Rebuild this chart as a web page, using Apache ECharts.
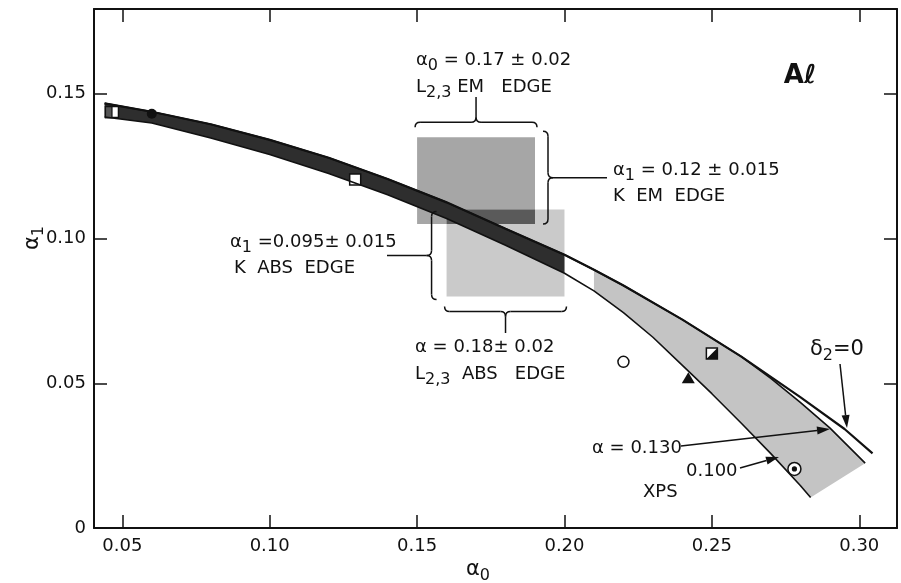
<!DOCTYPE html>
<html><head><meta charset="utf-8">
<script src="https://cdn.jsdelivr.net/npm/echarts@6/dist/echarts.min.js"></script>
<style>html,body{margin:0;padding:0;background:#fff}#c{width:901px;height:583px}</style>
</head><body><div id="c"></div>
<script>
// ---- data ----
const xTicks = [0.05, 0.10, 0.15, 0.20, 0.25, 0.30];
const yTicks = [0, 0.05, 0.10, 0.15];

// delta2 = 0 curve
const delta2X = [0.044,0.06,0.08,0.10,0.12,0.14,0.16,0.18,0.20,0.21,0.22,0.24,0.26,0.28,0.295,0.3045];
const delta2Y = [0.1467,0.1438,0.1395,0.1341,0.1279,0.1206,0.1125,0.1034,0.0944,0.0892,0.0838,0.0720,0.0592,0.0452,0.0342,0.0258];
// alpha = 0.130 curve (upper edge of band)
const alpha130X = [0.044,0.06,0.08,0.10,0.12,0.14,0.16,0.18,0.20,0.21,0.22,0.24,0.26,0.27,0.28,0.29,0.302];
const alpha130Y = [0.1467,0.1438,0.1395,0.1341,0.1279,0.1206,0.1125,0.1034,0.0944,0.0892,0.0838,0.0720,0.0592,0.0517,0.0434,0.0346,0.0224];
// alpha = 0.100 curve (lower edge of band)
const alpha100X = [0.044,0.06,0.08,0.10,0.12,0.14,0.16,0.18,0.20,0.21,0.22,0.23,0.24,0.25,0.26,0.27,0.28,0.2835];
const alpha100Y = [0.1420,0.1399,0.1347,0.1290,0.1225,0.1151,0.1069,0.0977,0.0880,0.0819,0.0744,0.0659,0.0562,0.0464,0.0362,0.0257,0.0147,0.0105];
const darkBandEnd = 0.20;
const grayBandStart = 0.21;

// L2,3 EM edge: alpha0 = 0.17 +- 0.02 ; K EM edge: alpha1 = 0.12 +- 0.015
const emEdgeX = [0.15, 0.19];
const emEdgeY = [0.105, 0.135];
// L2,3 ABS edge: alpha = 0.18 +- 0.02 ; K ABS edge: alpha1 = 0.095 +- 0.015
const absEdgeX = [0.16, 0.20];
const absEdgeY = [0.08, 0.11];

// individual points
const pointX = [0.0465, 0.0600, 0.1290, 0.2200, 0.2420, 0.2500, 0.2780];
const pointY = [0.1437, 0.1431, 0.1204, 0.0574, 0.0517, 0.0603, 0.0204];
const pointKind = ['halfSquare', 'dot', 'openSquare', 'openCircle', 'triangle', 'diagSquare', 'circledDot'];

// ---- chart ----
const FONT = 'DejaVu Sans';
const INK = '#111';
const chart = echarts.init(document.getElementById('c'), null, {renderer: 'canvas'});

function axisBase(extra) {
  return Object.assign({
    type: 'value',
    axisLine: {show: true, onZero: false, lineStyle: {color: INK, width: 2}},
    splitLine: {show: false}
  }, extra);
}
const fmt = v => (Math.abs(v) < 1e-9 ? '0' : v.toFixed(2));

function pts(xs, ys) { return xs.map((x, i) => [x, ys[i]]); }

function bandPolygon(api, lo, hi) {
  const up = [], low = [];
  alpha130X.forEach((x, i) => { if (x >= lo - 1e-9 && x <= hi + 1e-9) up.push(api.coord([x, alpha130Y[i]])); });
  alpha100X.forEach((x, i) => { if (x >= lo - 1e-9 && x <= hi + 1e-9) low.push(api.coord([x, alpha100Y[i]])); });
  return up.concat(low.reverse());
}

function rectShape(api, xs, ys) {
  const a = api.coord([xs[0], ys[1]]);
  const b = api.coord([xs[1], ys[0]]);
  return {x: a[0], y: a[1], width: b[0] - a[0], height: b[1] - a[1]};
}

chart.setOption({
  animation: false,
  backgroundColor: '#fff',
  grid: {left: 94, right: 4, top: 9, bottom: 55},
  xAxis: [
    axisBase({min: 0.0404, max: 0.3128, position: 'bottom',
      axisTick: {show: true, inside: true, length: 13, customValues: xTicks, lineStyle: {color: INK, width: 1.5}},
      axisLabel: {customValues: xTicks, formatter: fmt, fontSize: 18, fontFamily: FONT, color: INK, margin: 9}}),
    axisBase({min: 0.0404, max: 0.3128, position: 'top',
      axisTick: {show: true, inside: true, length: 13, customValues: xTicks, lineStyle: {color: INK, width: 1.5}},
      axisLabel: {show: false}})
  ],
  yAxis: [
    axisBase({min: 0, max: 0.1793, position: 'left',
      axisTick: {show: true, inside: true, length: 13, customValues: yTicks, lineStyle: {color: INK, width: 1.5}},
      axisLabel: {customValues: yTicks, formatter: fmt, fontSize: 18, fontFamily: FONT, color: INK, margin: 8}}),
    axisBase({min: 0, max: 0.1793, position: 'right',
      axisTick: {show: true, inside: true, length: 13, customValues: yTicks, lineStyle: {color: INK, width: 1.5}},
      axisLabel: {show: false}})
  ],
  series: [
    { // edge boxes
      type: 'custom', clip: false, data: [[0.17, 0.1]],
      renderItem: (params, api) => {
        const em = rectShape(api, emEdgeX, emEdgeY);
        const ab = rectShape(api, absEdgeX, absEdgeY);
        const ov = rectShape(api, [Math.max(emEdgeX[0], absEdgeX[0]), Math.min(emEdgeX[1], absEdgeX[1])],
                                  [Math.max(emEdgeY[0], absEdgeY[0]), Math.min(emEdgeY[1], absEdgeY[1])]);
        return {type: 'group', children: [
          {type: 'rect', shape: em, style: {fill: '#a6a6a6'}},
          {type: 'rect', shape: ab, style: {fill: '#cacaca'}},
          {type: 'rect', shape: ov, style: {fill: '#5a5a5a'}}
        ]};
      }
    },
    { // band fill
      type: 'custom', clip: false, data: [[0.17, 0.1]],
      renderItem: (params, api) => ({type: 'group', children: [
        {type: 'polygon', shape: {points: bandPolygon(api, 0, darkBandEnd)}, style: {fill: '#2e2e2e'}},
        {type: 'polygon', shape: {points: bandPolygon(api, grayBandStart, 1)}, style: {fill: '#c4c4c4'}}
      ]})
    },
    {type: 'line', data: pts(alpha100X, alpha100Y), symbol: 'none', lineStyle: {color: INK, width: 1.6}},
    {type: 'line', data: pts(alpha130X, alpha130Y), symbol: 'none', lineStyle: {color: INK, width: 1.6}},
    {type: 'line', data: pts(delta2X, delta2Y), symbol: 'none', lineStyle: {color: INK, width: 2.2}},
    { // points
      type: 'custom', clip: false, data: pts(pointX, pointY),
      renderItem: (params, api) => {
        const p = api.coord([api.value(0), api.value(1)]);
        const x = p[0], y = p[1];
        const k = pointKind[params.dataIndex];
        const st = {fill: '#fff', stroke: INK, lineWidth: 1.5};
        if (k === 'dot') return {type: 'circle', shape: {cx: x, cy: y, r: 5}, style: {fill: INK}};
        if (k === 'openCircle') return {type: 'circle', shape: {cx: x, cy: y, r: 5.5}, style: st};
        if (k === 'openSquare') return {type: 'rect', shape: {x: x - 5.5, y: y - 5.5, width: 11, height: 11}, style: st};
        if (k === 'triangle') return {type: 'polygon', shape: {points: [[x, y - 6], [x - 6.5, y + 5], [x + 6.5, y + 5]]}, style: {fill: INK}};
        if (k === 'circledDot') return {type: 'group', children: [
          {type: 'circle', shape: {cx: x, cy: y, r: 6.5}, style: st},
          {type: 'circle', shape: {cx: x, cy: y, r: 2.6}, style: {fill: INK}}]};
        if (k === 'diagSquare') return {type: 'group', children: [
          {type: 'rect', shape: {x: x - 5.5, y: y - 5.5, width: 11, height: 11}, style: st},
          {type: 'polygon', shape: {points: [[x + 5.5, y - 5.5], [x + 5.5, y + 5.5], [x - 5.5, y + 5.5]]}, style: {fill: INK}}]};
        // halfSquare
        return {type: 'group', children: [
          {type: 'rect', shape: {x: x - 6.5, y: y - 5.5, width: 13, height: 11}, style: st},
          {type: 'rect', shape: {x: x - 6.5, y: y - 5.5, width: 6.5, height: 11}, style: {fill: '#555', stroke: INK, lineWidth: 1.2}}]};
      }
    }
  ]
});

// ---- annotations ----
const toPx = (x, y) => chart.convertToPixel({gridIndex: 0}, [x, y]);
const emTL = toPx(emEdgeX[0], emEdgeY[1]), emBR = toPx(emEdgeX[1], emEdgeY[0]);
const abTL = toPx(absEdgeX[0], absEdgeY[1]), abBR = toPx(absEdgeX[1], absEdgeY[0]);

const g = [];
const lineSt = {stroke: INK, lineWidth: 1.5, fill: null};
function seg(x1, y1, x2, y2) { g.push({type: 'line', shape: {x1, y1, x2, y2}, style: {stroke: INK, lineWidth: 1.5}, z: 20}); }
function quad(x1, y1, cx, cy, x2, y2) {
  g.push({type: 'bezierCurve', shape: {x1, y1, x2, y2, cpx1: cx, cpy1: cy}, style: lineSt, z: 20});
}
// horizontal brace, tip toward y + s*r
function hBrace(x1, x2, y, s, r) {
  const xm = (x1 + x2) / 2;
  quad(x1, y - s * r, x1, y, x1 + r, y);
  seg(x1 + r, y, xm - r, y);
  quad(xm - r, y, xm, y, xm, y + s * r);
  quad(xm, y + s * r, xm, y, xm + r, y);
  seg(xm + r, y, x2 - r, y);
  quad(x2 - r, y, x2, y, x2, y - s * r);
}
// vertical brace, tip toward x + s*r
function vBrace(y1, y2, x, s, r) {
  const ym = (y1 + y2) / 2;
  quad(x - s * r, y1, x, y1, x, y1 + r);
  seg(x, y1 + r, x, ym - r);
  quad(x, ym - r, x, ym, x + s * r, ym);
  quad(x + s * r, ym, x, ym, x, ym + r);
  seg(x, ym + r, x, y2 - r);
  quad(x, y2 - r, x, y2, x - s * r, y2);
}
function arrow(x1, y1, x2, y2) {
  const a = Math.atan2(y2 - y1, x2 - x1), L = 13, W = 4;
  const bx = x2 - L * Math.cos(a), by = y2 - L * Math.sin(a);
  seg(x1, y1, bx, by);
  g.push({type: 'polygon', shape: {points: [[x2, y2], [bx + W * Math.sin(a), by - W * Math.cos(a)], [bx - W * Math.sin(a), by + W * Math.cos(a)]]}, style: {fill: INK}, z: 20});
}
// top brace (EM edge, alpha0)
const tb = emTL[1] - 15, tm = (emTL[0] + emBR[0]) / 2;
hBrace(emTL[0] - 2, emBR[0] + 2, tb, -1, 5);
seg(tm, tb - 5, tm, 97);
// right brace (EM edge, alpha1)
const rb = emBR[0] + 13, rm = (emTL[1] - 6 + emBR[1]) / 2;
vBrace(emTL[1] - 6, emBR[1], rb, 1, 5);
seg(rb + 5, rm, 607, rm);
// left brace (ABS edge, alpha1)
const lb = abTL[0] - 15, lm = (abTL[1] + 2 + abBR[1] + 3) / 2;
vBrace(abTL[1] + 2, abBR[1] + 3, lb, -1, 5);
seg(387, lm, lb - 5, lm);
// bottom brace (ABS edge, alpha)
const bb = abBR[1] + 15, bm = (abTL[0] + abBR[0]) / 2;
hBrace(abTL[0] - 2, abBR[0] + 2, bb, 1, 5);
seg(bm, bb + 5, bm, 333);
// arrows
arrow(681, 446, 830, 429);
arrow(740, 468, 779, 457);
arrow(840, 364, 847, 428);

const rich = {
  n: {fontSize: 18, fontFamily: FONT, fill: INK},
  s: {fontSize: 16, fontFamily: FONT, fill: INK, padding: [12, 0, 0, 0]},
  b: {fontSize: 21, fontFamily: FONT, fill: INK},
  bs: {fontSize: 16, fontFamily: FONT, fill: INK, padding: [11, 0, 0, 0]},
  m: {fontSize: 18, fontFamily: FONT, fill: INK}
};
function txt(x, y, text, align, extra) {
  g.push(Object.assign({type: 'text', x, y, z: 30,
    style: {text, rich, align: align || 'left', verticalAlign: 'middle', fill: INK}}, extra || {}));
}
txt(416, 60, '{n|α}{s|0}{n| = 0.17 ± 0.02}');
txt(416, 87, '{n|L}{s|2,3}{n| EM   EDGE}');
txt(613, 170, '{n|α}{s|1}{n| = 0.12 ± 0.015}');
txt(613, 196, '{n|K  EM  EDGE}');
txt(230, 242, '{n|α}{s|1}{n| =0.095± 0.015}');
txt(234, 268, '{n|K  ABS  EDGE}');
txt(415, 347, '{n|α = 0.18± 0.02}');
txt(415, 374, '{n|L}{s|2,3}{n|  ABS   EDGE}');
txt(810, 350, '{b|δ}{bs|2}{b|=0}');
txt(592, 448, '{m|α = 0.130}');
txt(686, 471, '{m|0.100}');
txt(643, 492, '{m|XPS}');
g.push({type: 'text', x: 800, y: 76, z: 30, style: {text: 'Aℓ', font: 'bold 26px "DejaVu Sans"', fill: INK, align: 'center', verticalAlign: 'middle'}});
// axis names
txt(478, 570, '{b|α}{bs|0}', 'center');
txt(33, 238, '{b|α}{bs|1}', 'center', {rotation: Math.PI / 2});

chart.setOption({graphic: {elements: g}});
</script>
</body></html>
